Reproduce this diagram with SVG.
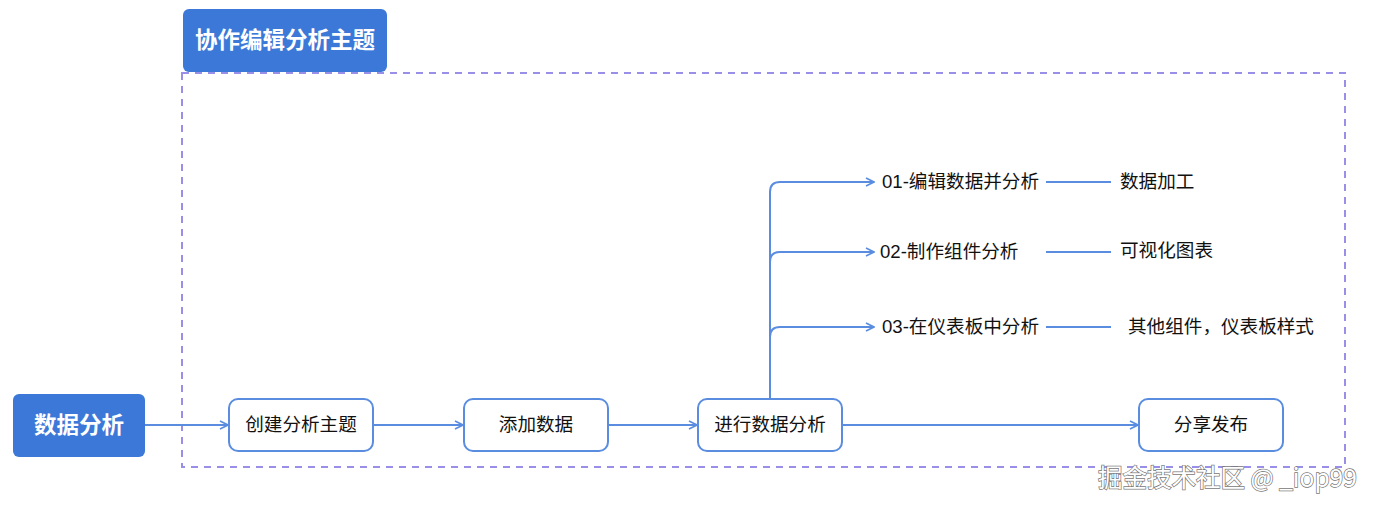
<svg xmlns="http://www.w3.org/2000/svg" width="1380" height="508" viewBox="0 0 1380 508">
<style>
.t{font-family:"Liberation Sans","Noto Sans CJK SC",sans-serif;font-size:18.6px;fill:#111}
.b{font-family:"Noto Sans CJK SC","Liberation Sans",sans-serif;font-size:22.5px;font-weight:bold;fill:#fff}
.n{fill:#fff;stroke:#5a8de0;stroke-width:2}
.h{fill:#3c78d8}
.c{fill:none;stroke:#5a8de0;stroke-width:2}
.wm{font-family:"Noto Sans CJK SC","Liberation Sans",sans-serif;font-size:24.5px;fill:#fff;stroke:#777;stroke-width:1.4;paint-order:stroke}
</style>
<defs>
<marker id="a" viewBox="0 0 10 10" refX="9" refY="5" markerWidth="10" markerHeight="10" markerUnits="userSpaceOnUse" orient="auto">
<path d="M1,1 L9,5 L1,9" fill="none" stroke="#5a8de0" stroke-width="1.6"/>
</marker>
</defs>
<rect x="182" y="73" width="1163" height="394" fill="none" stroke="#9a8fe8" stroke-width="2" stroke-dasharray="7,6"/>
<g id="title"><rect class="h" x="183" y="9" width="204" height="63" rx="6"/><text class="b" x="285" y="48" text-anchor="middle">协作编辑分析主题</text></g>
<g id="root"><rect class="h" x="13" y="394" width="132" height="63" rx="6"/><text class="b" x="79" y="433" text-anchor="middle">数据分析</text></g>
<g id="create"><rect class="n" x="229" y="399" width="144" height="52" rx="9"/><text class="t" x="301" y="431" text-anchor="middle">创建分析主题</text></g>
<g id="add"><rect class="n" x="464" y="399" width="144" height="52" rx="9"/><text class="t" x="536" y="431" text-anchor="middle">添加数据</text></g>
<g id="analyze"><rect class="n" x="698" y="399" width="144" height="52" rx="9"/><text class="t" x="770" y="431" text-anchor="middle">进行数据分析</text></g>
<g id="share"><rect class="n" x="1139" y="399" width="144" height="52" rx="9"/><text class="t" x="1211" y="431" text-anchor="middle">分享发布</text></g>
<g id="b1"><text class="t" x="882" y="188">01-编辑数据并分析</text></g>
<g id="b2"><text class="t" x="880" y="258">02-制作组件分析</text></g>
<g id="b3"><text class="t" x="882" y="333">03-在仪表板中分析</text></g>
<g id="l1"><text class="t" x="1120" y="188">数据加工</text></g>
<g id="l2"><text class="t" x="1120" y="257">可视化图表</text></g>
<g id="l3"><text class="t" x="1128" y="333">其他组件，仪表板样式</text></g>
<g id="connectors">
<path class="c" d="M145,425 H228" marker-end="url(#a)"/>
<path class="c" d="M373,425 H463" marker-end="url(#a)"/>
<path class="c" d="M608,425 H697" marker-end="url(#a)"/>
<path class="c" d="M842,425 H1138" marker-end="url(#a)"/>
<path class="c" d="M770,399 V192 Q770,182 780,182 H874" marker-end="url(#a)"/>
<path class="c" d="M770,262 Q770,252 780,252 H874" marker-end="url(#a)"/>
<path class="c" d="M770,337 Q770,327 780,327 H874" marker-end="url(#a)"/>
<path class="c" d="M1046,182 H1111"/>
<path class="c" d="M1046,252 H1111"/>
<path class="c" d="M1046,327 H1111"/>
</g>
<text class="wm" x="1098" y="487">掘金技术社区 @ _iop99</text>
</svg>
